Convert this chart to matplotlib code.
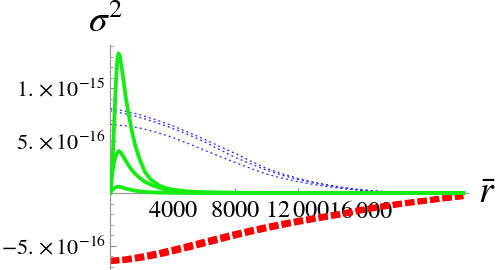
import numpy as np
import matplotlib
matplotlib.use('Agg')
import matplotlib.pyplot as plt
from matplotlib.ticker import FixedLocator, MultipleLocator

plt.rcParams['mathtext.fontset'] = 'stix'
plt.rcParams['font.family'] = ['Liberation Serif', 'DejaVu Serif']

S = 1e-16  # values below are in units of 1e-16

# green curves (solid)
g_big_r = [0, 100, 200, 300, 400, 470, 540, 620, 720, 850, 1000, 1170, 1400, 1600, 1900, 2240,
           2600, 3090, 3600, 4160, 5000, 6000, 8000, 12000, 22600]
g_big_v = [0, 1.6, 4.3, 7.8, 11.2, 12.7, 13.3, 13.1, 12.2, 10.9, 9.2, 7.7, 5.9, 4.6, 3.2, 2.0,
           1.3, 0.76, 0.45, 0.29, 0.15, 0.08, 0.03, 0.01, 0]
g_mid_r = [0, 80, 150, 250, 400, 560, 700, 900, 1170, 1500, 1810, 2200, 2670, 3200, 3710,
           4500, 5500, 7000, 10000, 22600]
g_mid_v = [0, 1.0, 1.9, 2.9, 3.7, 4.0, 3.85, 3.35, 2.67, 2.0, 1.55, 1.1, 0.76, 0.48, 0.29,
           0.15, 0.08, 0.03, 0.01, 0]
g_sml_r = [0, 150, 300, 530, 800, 1100, 1390, 1800, 2240, 3000, 4000, 6000, 22600]
g_sml_v = [0, 0.3, 0.5, 0.62, 0.52, 0.38, 0.29, 0.18, 0.1, 0.05, 0.02, 0.0, 0]

# blue curves (dotted)
b_r = [0, 1000, 2000, 3000, 4000, 5000, 6000, 7000, 8000, 9000, 10000, 11000, 12000,
       13000, 14000, 15000, 16000, 17000, 18000, 19000, 20000]
b1_v = [8.07, 7.8, 7.43, 6.95, 6.4, 5.8, 5.15, 4.45, 3.78, 3.05, 2.35, 1.85, 1.4,
        1.05, 0.76, 0.52, 0.32, 0.2, 0.12, 0.06, 0.02]
b2_v = [7.84, 7.55, 7.17, 6.7, 6.15, 5.58, 4.9, 4.15, 3.4, 2.78, 2.19, 1.7, 1.3,
        0.97, 0.7, 0.48, 0.3, 0.18, 0.11, 0.05, 0.02]
b3_v = [6.54, 6.4, 6.16, 5.78, 5.3, 4.72, 4.1, 3.5, 2.92, 2.35, 1.81, 1.42, 1.1,
        0.82, 0.6, 0.4, 0.25, 0.15, 0.08, 0.04, 0.01]

# red curves (dashed)
red_r = [0, 1000, 2000, 3000, 4000, 5000, 6000, 7000, 8000, 9000, 10000, 11000, 12000,
         13000, 14000, 15000, 16000, 17000, 18000, 19000, 20000, 21000, 22000, 22600]
red1_v = [-6.45, -6.3, -6.05, -5.75, -5.4, -5.03, -4.65, -4.27, -3.9, -3.55, -3.23, -2.93,
          -2.65, -2.4, -2.15, -1.9, -1.6, -1.35, -1.12, -0.92, -0.74, -0.55, -0.38, -0.28]
red2_v = [-6.5, -6.38, -6.17, -5.9, -5.57, -5.2, -4.82, -4.43, -4.05, -3.7, -3.37, -3.06,
          -2.77, -2.5, -2.24, -1.98, -1.68, -1.42, -1.18, -0.97, -0.78, -0.58, -0.4, -0.3]

x_ticks = [4000, 8000, 12000, 16000]
x_labels = [r'$4000$', r'$8000$', r'$12\,000$', r'$16\,000$']
y_ticks = [-5e-16, 5e-16, 1e-15]
y_labels = [r'${-}5.\,{\times}\,10^{-16}$', r'$5.\,{\times}\,10^{-16}$', r'$1.\,{\times}\,10^{-15}$']

fig = plt.figure(figsize=(4.98, 2.70), dpi=100)
ax = fig.add_axes([110 / 498, 0, 358 / 498, 225 / 270])

green = '#14ec14'
for r, v in [(g_big_r, g_big_v), (g_mid_r, g_mid_v), (g_sml_r, g_sml_v)]:
    ax.plot(r, np.array(v) * S, color=green, lw=2.7, solid_joinstyle='round', zorder=3)

for v in [b1_v, b2_v, b3_v]:
    ax.plot(b_r, np.array(v) * S, color='#2a2aff', lw=0.9, linestyle=(0, (1.6, 2.4)), zorder=2)

for v in [red1_v, red2_v]:
    ax.plot(red_r, np.array(v) * S, color='#ff0000', lw=4.2, linestyle=(0, (1.6, 0.55)),
            dash_capstyle='butt', zorder=2)

ax.set_xlim(0, 22900)
ax.set_ylim(-7.33e-16, 14.1e-16)

for s in ['top', 'right']:
    ax.spines[s].set_visible(False)
ax.spines['bottom'].set_position(('data', 0))
ax.spines['left'].set_position(('data', 0))
for s in ['bottom', 'left']:
    ax.spines[s].set_color('#999999')
    ax.spines[s].set_linewidth(0.9)
ax.spines['bottom'].set_zorder(1)

ax.xaxis.set_major_locator(FixedLocator(x_ticks))
ax.set_xticklabels(x_labels)
ax.yaxis.set_major_locator(FixedLocator(y_ticks))
ax.set_yticklabels(y_labels)
ax.yaxis.set_minor_locator(MultipleLocator(1e-16))
ax.tick_params(axis='both', which='both', direction='in', color='#888888')
ax.tick_params(axis='x', which='major', length=3.5, pad=6, labelsize=17.5)
ax.tick_params(axis='y', which='major', length=4, pad=3, labelsize=16)
ax.tick_params(axis='y', which='minor', length=2.5)

fig.text(106 / 498, 1 - 22 / 270, r'$\sigma^2$', fontsize=27, ha='center', va='center')
fig.text(487 / 498, 1 - 194 / 270, r'$\bar{r}$', fontsize=27, ha='center', va='center')

fig.savefig('out.png', dpi=100)
